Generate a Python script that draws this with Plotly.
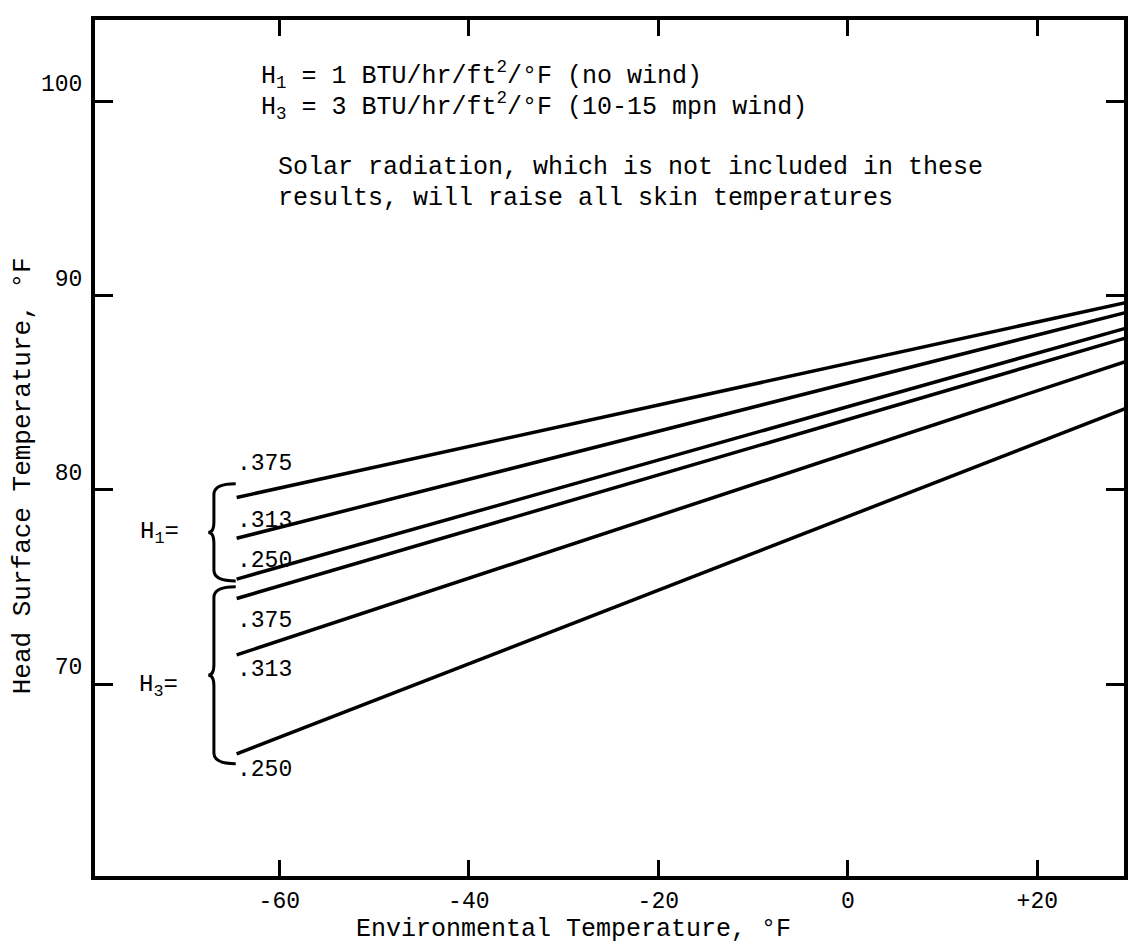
import plotly.graph_objects as go

# ---- data ----
env_temp = [-64.5, 30.0]                      # environmental temperature, °F (line start / end)
series_names = ["H1 .375", "H1 .313", "H1 .250", "H3 .375", "H3 .313", "H3 .250"]
start_vals = [79.6, 77.5, 75.4, 74.4, 71.5, 66.4]   # head surface temp at -64.5 °F
end_vals = [89.7, 89.2, 88.4, 87.9, 86.7, 84.3]     # head surface temp at +30 °F
curve_labels = [".375", ".313", ".250", ".375", ".313", ".250"]
group_names = ["H<sub>1</sub>=", "H<sub>3</sub>="]
group_members = [[0, 1, 2], [3, 4, 5]]
x_tick_vals = [-60, -40, -20, 0, 20]
x_tick_text = ["-60", "-40", "-20", "0", "+20"]
y_tick_vals = [70, 80, 90, 100]
y_tick_text = ["70", "80", "90", "100"]

# ---- styling / layout constants ----
OFF = 8                       # page body margin in the browser
W, H = 1136 - 2 * OFF, 951 - OFF
# desired plot box in page pixels
PL, PR, PT, PB = 95, 1128, 20, 876
ML, MR, MT, MB = PL - OFF, W - (PR - OFF), PT - OFF, H - (PB - OFF)
XR = [-79.45, 29.15]
YR = [60.12, 104.17]
FONT = "Liberation Mono, Courier New, monospace"
label_yshift = [33, 17, 18, -22, -15, -16]
group_label_px = [(138, 533), (137, 686)]
brace_pad = [(0.7, 0.1), (0.6, 0.5)]
brace_x = (-64.6, -66.9, -67.5)   # right end, body, tip


def pxx(px):
    return (px - PL) / (PR - PL)


def pxy(py):
    return (PB - py) / (PB - PT)


fig = go.Figure()
for name, y0, y1 in zip(series_names, start_vals, end_vals):
    fig.add_trace(go.Scatter(x=env_temp, y=[y0, y1], mode="lines", name=name,
                             line=dict(color="black", width=3.5), showlegend=False,
                             hoverinfo="skip"))

annotations = []
for i, lab in enumerate(curve_labels):
    annotations.append(dict(x=env_temp[0], y=start_vals[i], xref="x", yref="y",
                            text=lab, showarrow=False, xanchor="left", yanchor="middle",
                            yshift=label_yshift[i], xshift=-2,
                            font=dict(family=FONT, size=23, color="black")))

shapes = []
xr, xb, xt = brace_x
for g, members in enumerate(group_members):
    vals = [start_vals[m] for m in members]
    yt = max(vals) + brace_pad[g][0]
    yb = min(vals) - brace_pad[g][1]
    ym = (yt + yb) / 2
    h = 0.55
    path = (f"M {xr},{yt} Q {xb},{yt} {xb},{yt - h} L {xb},{ym + h} "
            f"Q {xb},{ym} {xt},{ym} Q {xb},{ym} {xb},{ym - h} "
            f"L {xb},{yb + h} Q {xb},{yb} {xr},{yb}")
    shapes.append(dict(type="path", path=path, xref="x", yref="y",
                       line=dict(color="black", width=3)))
    gx, gy = group_label_px[g]
    annotations.append(dict(x=pxx(gx), y=pxy(gy), xref="paper", yref="paper",
                            text=group_names[g], showarrow=False, xanchor="left",
                            yanchor="middle",
                            font=dict(family=FONT, size=24, color="black")))

text_lines = [
    ("H<sub>1</sub> = 1 BTU/hr/ft<sup>2</sup>/°F (no wind)", 260, 75),
    ("H<sub>3</sub> = 3 BTU/hr/ft<sup>2</sup>/°F (10-15 mpn wind)", 260, 106),
    ("Solar radiation, which is not included in these", 277, 168),
    ("results, will raise all skin temperatures", 277, 198),
]
for txt, px, py in text_lines:
    annotations.append(dict(x=pxx(px), y=pxy(py), xref="paper", yref="paper",
                            text=txt, showarrow=False, xanchor="left", yanchor="middle",
                            font=dict(family=FONT, size=25, color="black")))

annotations.append(dict(x=pxx(575), y=pxy(929), xref="paper", yref="paper",
                        text="Environmental Temperature, °F", showarrow=False,
                        xanchor="center", yanchor="middle",
                        font=dict(family=FONT, size=25, color="black")))
annotations.append(dict(x=pxx(23), y=pxy(476), xref="paper", yref="paper",
                        text="Head Surface Temperature, °F", showarrow=False,
                        textangle=-90, xanchor="center", yanchor="middle",
                        font=dict(family=FONT, size=26, color="black")))

fig.update_layout(
    width=W, height=H,
    margin=dict(l=ML, r=MR, t=MT, b=MB, pad=0),
    paper_bgcolor="white", plot_bgcolor="white",
    annotations=annotations, shapes=shapes,
    xaxis=dict(range=XR, tickvals=x_tick_vals, ticktext=x_tick_text,
               ticks="inside", ticklen=16, tickwidth=3, tickcolor="black",
               showline=True, linewidth=4, linecolor="black", mirror="ticks",
               showgrid=False, zeroline=False, ticklabelstandoff=0,
               tickfont=dict(family=FONT, size=23, color="black")),
    yaxis=dict(range=YR, tickvals=y_tick_vals, ticktext=y_tick_text,
               ticks="inside", ticklen=18, tickwidth=3, tickcolor="black",
               showline=True, linewidth=4, linecolor="black", mirror="ticks",
               showgrid=False, zeroline=False, ticklabelposition="outside top",
               ticklabelstandoff=4,
               tickfont=dict(family=FONT, size=23, color="black")),
)

fig.write_html("out.html")
